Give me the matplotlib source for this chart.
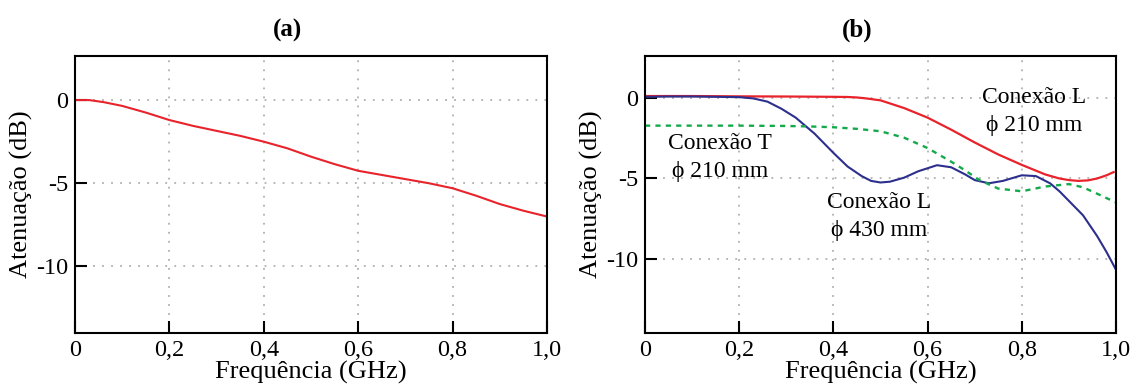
import matplotlib
matplotlib.use("Agg")
import matplotlib.pyplot as plt

plt.rcParams['font.family'] = ['Liberation Serif', 'DejaVu Serif']

# Panel (a)
freq_a = [0.0, 0.03, 0.06, 0.1, 0.15, 0.2, 0.25, 0.3, 0.35, 0.4, 0.45, 0.5, 0.55, 0.6,
          0.65, 0.7, 0.75, 0.8, 0.85, 0.9, 0.95, 1.0]
att_a = [0.0, 0.0, -0.12, -0.35, -0.75, -1.2, -1.55, -1.85, -2.15, -2.5, -2.9, -3.4, -3.85,
         -4.25, -4.5, -4.75, -5.0, -5.3, -5.75, -6.25, -6.65, -7.0]

# Panel (b)
freq_red = [0.0, 0.1, 0.2, 0.3, 0.4, 0.43, 0.45, 0.47, 0.5, 0.55, 0.6, 0.65, 0.7, 0.75, 0.8,
            0.85, 0.88, 0.9, 0.92, 0.94, 0.96, 0.98, 0.995]
att_red = [0.15, 0.15, 0.13, 0.12, 0.1, 0.09, 0.06, 0.0, -0.12, -0.6, -1.2, -1.95, -2.75,
           -3.5, -4.15, -4.75, -5.0, -5.1, -5.15, -5.12, -5.0, -4.8, -4.6]

freq_blue = [0.0, 0.05, 0.1, 0.15, 0.2, 0.23, 0.26, 0.29, 0.32, 0.34, 0.36, 0.38, 0.4, 0.43,
             0.46, 0.48, 0.5, 0.52, 0.55, 0.58, 0.62, 0.65, 0.68, 0.7, 0.73, 0.76,
             0.8, 0.83, 0.86, 0.88, 0.9, 0.93, 0.96, 0.98, 1.0]
att_blue = [0.1, 0.12, 0.12, 0.1, 0.08, 0.0, -0.2, -0.65, -1.2, -1.7, -2.2, -2.8, -3.4, -4.25,
            -4.85, -5.15, -5.25, -5.2, -4.95, -4.55, -4.17, -4.3, -4.75, -5.1, -5.3, -5.15,
            -4.8, -4.85, -5.3, -5.8, -6.4, -7.3, -8.6, -9.6, -10.7]

freq_green = [0.0, 0.1, 0.2, 0.3, 0.35, 0.4, 0.45, 0.5, 0.55, 0.6, 0.65, 0.68, 0.71, 0.75,
              0.8, 0.85, 0.9, 0.93, 0.96, 1.0]
att_green = [-1.7, -1.7, -1.7, -1.72, -1.75, -1.8, -1.9, -2.05, -2.45, -3.1, -3.95, -4.5,
             -5.1, -5.63, -5.8, -5.5, -5.35, -5.55, -5.95, -6.5]

xticks = [0, 0.2, 0.4, 0.6, 0.8, 1.0]
xticklabels = ["0", "0,2", "0,4", "0,6", "0,8", "1,0"]
yticks = [0, -5, -10]
yticklabels = ["0", "-5", "-10"]

RED = "#e8232b"
BLUE = "#2c2f8c"
GREEN = "#14a94a"

W, H = 1133, 387
fig = plt.figure(figsize=(W / 100, H / 100), dpi=100)
ax_a = fig.add_axes([75 / W, 1 - 333 / H, (547 - 75) / W, (333 - 56) / H])
ax_b = fig.add_axes([645 / W, 1 - 333 / H, (1116 - 645) / W, (333 - 56) / H])

TICK_FS = 17.5
LABEL_FS = 19
TITLE_FS = 18
ANN_FS = 17

def style(ax, ylim, title):
    ax.set_xlim(0, 1.0)
    ax.set_ylim(*ylim)
    ax.set_xticks(xticks)
    ax.set_xticklabels(xticklabels)
    ax.set_yticks(yticks)
    ax.set_yticklabels(yticklabels)
    ax.tick_params(direction='in', length=8.5, width=1.5, labelsize=TICK_FS, top=False,
                   right=False, pad=5, colors='black')
    ax.grid(True, linestyle=(0, (1, 4)), color='#b0b0b0', linewidth=1.3)
    for s in ax.spines.values():
        s.set_linewidth(1.5)
    ax.set_xlabel("Frequência (GHz)", fontsize=LABEL_FS, labelpad=0)
    ax.set_ylabel("Atenuação (dB)", fontsize=LABEL_FS, labelpad=2)
    ax.set_title(title, fontsize=TITLE_FS, fontweight='bold', pad=14, x=0.45)

ax_a.plot(freq_a, att_a, color=RED, lw=1.5)
style(ax_a, (-14.0, 2.65), "(a)")

ax_b.plot(freq_red, att_red, color=RED, lw=1.6)
ax_b.plot(freq_blue, att_blue, color=BLUE, lw=1.5)
ax_b.plot(freq_green, att_green, color=GREEN, lw=1.7, linestyle=(0, (2.2, 2.2)))
style(ax_b, (-14.65, 2.65), "(b)")

ax_b.text(0.826, -0.84, "Conexão L\n\u03d5 210 mm", ha='center', va='center', fontsize=ANN_FS,
          linespacing=1.45)
ax_b.text(0.159, -3.7, "Conexão T\n\u03d5 210 mm", ha='center', va='center', fontsize=ANN_FS,
          linespacing=1.45)
ax_b.text(0.498, -7.35, "Conexão L\n\u03d5 430 mm", ha='center', va='center', fontsize=ANN_FS,
          linespacing=1.45)

fig.savefig("out.png", dpi=100)
